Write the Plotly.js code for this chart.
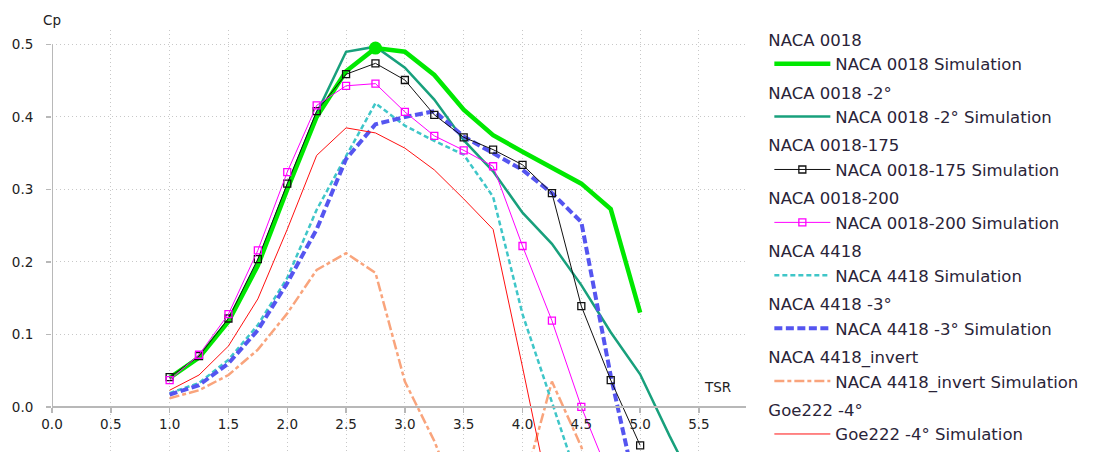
<!DOCTYPE html>
<html>
<head>
<meta charset="utf-8">
<script src="https://cdn.plot.ly/plotly-3.0.1.min.js"></script>
<style>html,body{margin:0;padding:0;background:#fff;}#chart{width:1110px;height:452px;}</style>
</head>
<body>
<div id="chart"></div>
<script>
// ---- data ----
const tsr = [1.0,1.25,1.5,1.75,2.0,2.25,2.5,2.75,3.0,3.25,3.5,3.75,4.0,4.25,4.5,4.75,5.0,5.25,5.5];

const naca0018      = [0.040,0.068,0.118,0.195,0.300,0.400,0.463,0.495,0.490,0.458,0.410,0.375,0.352,0.330,0.308,0.273,0.130];
const naca0018m2    = [0.040,0.070,0.120,0.200,0.305,0.405,0.490,0.497,0.468,0.424,0.368,0.325,0.268,0.225,0.168,0.103,0.045,-0.040,-0.120];
const naca0018_175  = [0.041,0.070,0.122,0.204,0.308,0.408,0.459,0.474,0.451,0.403,0.372,0.355,0.334,0.295,0.139,0.037,-0.053];
const naca0018_200  = [0.037,0.072,0.128,0.216,0.324,0.416,0.443,0.446,0.407,0.374,0.354,0.332,0.222,0.119,0.000,-0.100];
const naca4418      = [0.019,0.033,0.065,0.113,0.178,0.272,0.346,0.419,0.388,0.367,0.348,0.290,0.128,0.005,-0.115];
const naca4418m3    = [0.017,0.030,0.060,0.106,0.171,0.245,0.342,0.390,0.400,0.408,0.373,0.350,0.327,0.295,0.255,0.043,-0.140];
const naca4418inv   = [0.012,0.023,0.044,0.079,0.129,0.189,0.212,0.185,0.035,-0.047,-0.150,-0.250,-0.114,0.035,-0.055,-0.200];
const goe222m4      = [0.023,0.044,0.084,0.149,0.245,0.347,0.385,0.378,0.357,0.327,0.287,0.245,0.055,-0.140];

const groupTitles = ["NACA 0018","NACA 0018 -2°","NACA 0018-175","NACA 0018-200","NACA 4418","NACA 4418 -3°","NACA 4418_invert","Goe222 -4°"];
const simSuffix = " Simulation";

const xTicks = [0,0.5,1,1.5,2,2.5,3,3.5,4,4.5,5,5.5];
const xTickLabels = ["0.0","0.5","1.0","1.5","2.0","2.5","3.0","3.5","4.0","4.5","5.0","5.5"];
const yTicks = [0,0.1,0.2,0.3,0.4,0.5];
const yTickLabels = ["0.0","0.1","0.2","0.3","0.4","0.5"];

// ---- styles ----
const xRange = [0, 5.9];
const yRange = [-0.0622, 0.52];

const styles = [
  {color:'#00e800', width:4.5, dash:'solid'},
  {color:'#18a07c', width:2.5, dash:'solid'},
  {color:'#111111', width:1,   dash:'solid', marker:true},
  {color:'#ff00ff', width:1,   dash:'solid', marker:true},
  {color:'#3fc6c8', width:2.5, dash:'5px,3px'},
  {color:'#5555f0', width:4,   dash:'8px,3.5px'},
  {color:'#f9a47c', width:2.5, dash:'10px,3px,4px,3px'},
  {color:'#ff1010', width:1,   dash:'solid'}
];
const series = [naca0018, naca0018m2, naca0018_175, naca0018_200, naca4418, naca4418m3, naca4418inv, goe222m4];
const drawOrder = [1,0,6,4,5,7,2,3];

const traces = [];
drawOrder.forEach(i => {
  const s = styles[i];
  const ys = series[i];
  const t = {
    type:'scatter',
    x: tsr.slice(0, ys.length),
    y: ys,
    name: groupTitles[i] + simSuffix,
    legendgroup: 'g' + i,
    legendgrouptitle: {text: groupTitles[i]},
    legendrank: i + 1,
    mode: s.marker ? 'lines+markers' : 'lines',
    line: {color: s.color, width: s.width, dash: s.dash},
    hoverinfo: 'skip'
  };
  if (s.marker) {
    t.marker = {symbol:'square-open', size:7, color:s.color, line:{width:1.3, color:s.color}};
  }
  traces.push(t);
});

// highlighted maximum of NACA 0018
const maxIdx = naca0018.indexOf(Math.max(...naca0018));
traces.push({
  type:'scatter', x:[tsr[maxIdx]], y:[naca0018[maxIdx]], mode:'markers',
  marker:{color:styles[0].color, size:13, symbol:'circle'},
  showlegend:false, cliponaxis:false, hoverinfo:'skip'
});

const gridColor = '#c8c8c8';
const axisColor = '#b8b8b8';
const shapes = [
  {type:'rect', xref:'paper', yref:'y', x0:-0.01, x1:1.01, y0:yRange[0]-1, y1:yTicks[0], fillcolor:'#ffffff', line:{width:0}, layer:'between'},
  {type:'rect', xref:'paper', yref:'y', x0:-0.01, x1:1.01, y0:yTicks[yTicks.length-1], y1:yRange[1]+1, fillcolor:'#ffffff', line:{width:0}, layer:'between'},
  {type:'line', xref:'x', yref:'y', x0:xRange[0], x1:xRange[0], y0:yTicks[0], y1:yTicks[yTicks.length-1], line:{color:axisColor, width:2}, layer:'above'}
];

const tickFont = {family:'DejaVu Sans, Verdana, sans-serif', size:13.5, color:'#222'};
const legFont = {family:'DejaVu Sans, sans-serif', size:16.5, color:'#2a2438'};

const layout = {
  width:1110, height:452,
  margin:{l:52, r:364, t:30, b:0, pad:0},
  paper_bgcolor:'#fff', plot_bgcolor:'#fff',
  showlegend:true,
  hovermode:false,
  xaxis:{
    range:xRange, tickvals:xTicks, ticktext:xTickLabels,
    anchor:'free', position:(0 - yRange[0])/(yRange[1]-yRange[0]),
    showline:true, linecolor:axisColor, linewidth:2,
    ticks:'outside', ticklen:5, tickcolor:axisColor, tickwidth:1.5,
    showgrid:true, gridcolor:gridColor, griddash:'1px,3px', gridwidth:1,
    zeroline:false, tickfont:tickFont, fixedrange:true
  },
  yaxis:{
    range:yRange, tickvals:yTicks, ticktext:yTickLabels,
    showline:false, ticks:'outside', ticklen:5, tickcolor:axisColor, tickwidth:1.5,
    showgrid:true, gridcolor:gridColor, griddash:'1px,3px', gridwidth:1,
    zeroline:false, tickfont:tickFont, ticklabelstandoff:10, fixedrange:true
  },
  legend:{
    x:1.025, xanchor:'left', y:0.976, yanchor:'top',
    traceorder:'grouped', tracegroupgap:4, itemwidth:56, indentation:6,
    maxheight:460,
    font:legFont,
    grouptitlefont:legFont,
    bgcolor:'rgba(0,0,0,0)', borderwidth:0
  },
  shapes:shapes,
  annotations:[
    {text:'Cp', xref:'paper', yref:'paper', x:0, y:1.024, xanchor:'center', yanchor:'middle', showarrow:false, font:tickFont},
    {text:'TSR', xref:'x', yref:'y', x:5.655, y:0.028, xanchor:'center', yanchor:'middle', showarrow:false, font:tickFont}
  ]
};

Plotly.newPlot('chart', traces, layout, {displayModeBar:false, staticPlot:true});
</script>
</body>
</html>
